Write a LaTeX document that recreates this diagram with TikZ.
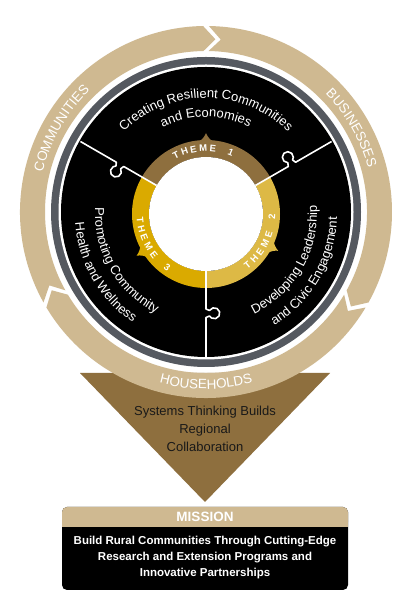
\documentclass[tikz,border=0pt]{standalone}
\usepackage{fontspec}
\setmainfont{Liberation Sans}
\usetikzlibrary{decorations.text}
\definecolor{oldgold}{HTML}{CFB991}
\definecolor{aged}{HTML}{8E6F3E}
\definecolor{rush}{HTML}{DAAA00}
\definecolor{field}{HTML}{DDB945}
\definecolor{steel}{HTML}{555960}
\tikzset{
  divider/.style={draw=white, line width=1.6pt, line join=round},
  arctext/.style={decorate, decoration={text along path, text align=center, text color=white, text={#1}}},
  themeletter/.style={text=white, font=\fontsize{9.5}{9.5}\selectfont\bfseries, inner sep=0pt},
  bigtext/.style={font=\fontsize{13}{18}\selectfont},
}
\begin{document}
\begin{tikzpicture}[x=1pt,y=1pt]
\useasboundingbox (0,0) rectangle (405,594);
\fill[white] (0,0) rectangle (405,594);
% triangle
\fill[aged] (80,221) -- (330,221) -- (205,92) -- cycle;
\node[bigtext, align=center, text=black!90] (tri) at (205,165) {Systems Thinking Builds\\Regional\\Collaboration};
% outer ring
\begin{scope}[shift={(206,382)}]
  \foreach \a/\b in {210/90, 90/-30, -30/-150}{
    \fill[oldgold] (\a-0.9:186) arc[start angle=\a-0.9, end angle=\b+0.9, radius=186]
      -- (\b+0.9-4:173) -- (\b+0.9:161) arc[start angle=\b+0.9, end angle=\a-0.9, radius=161]
      -- (\a-0.9-4:173) -- cycle;
  }
  \path[arctext={|\fontsize{13.5}{13.5}\selectfont|COMMUNITIES}] (185:168) arc[start angle=185, end angle=115, radius=168];
  \path[arctext={|\fontsize{13.5}{13.5}\selectfont|BUSINESSES}] (65:168) arc[start angle=65, end angle=-5, radius=168];
  \path[arctext={|\fontsize{13.5}{13.5}\selectfont|HOUSEHOLDS}] (235:177) arc[start angle=235, end angle=305, radius=177];
  \fill[steel] (0,0) circle[radius=155];
  \fill[white] (0,0) circle[radius=147.5];
  \fill[black] (0,0) circle[radius=145];
\end{scope}
% theme ring
\begin{scope}[shift={(206,380)}]
  \fill[aged] (30:74) arc[start angle=30, end angle=150, radius=74] -- (150:57) arc[start angle=150, end angle=30, radius=57] -- cycle;
  \fill[rush] (150:74) arc[start angle=150, end angle=270, radius=74] -- (270:57) arc[start angle=270, end angle=150, radius=57] -- cycle;
  \fill[field] (270:74) arc[start angle=270, end angle=390, radius=74] -- (30:57) arc[start angle=390, end angle=270, radius=57] -- cycle;
  \foreach \t/\c in {90/aged, 211/rush, -27/field}{
    \fill[\c, rotate=\t] (6.5:72) .. controls (3:74.2) and (1:77.5) .. (0:81) .. controls (-1:77.5) and (-3:74.2) .. (-6.5:72) -- cycle;
  }
  \fill[white] (0,0) circle[radius=57];
  \foreach \r in {30,150,270}{
    \draw[divider, rotate=\r] (57,0) -- (95,0) -- (96.5,3.5) arc[start angle=-120, end angle=-420, radius=5.5] -- (103.5,0) -- (145,0);
  }
  \foreach \ch/\ang [count=\i] in {T/117,H/109,E/101,M/92.5,E/84,1/68}
    \node[themeletter, rotate=\ang-90] (ta\i) at (\ang:66) {\ch};
  \foreach \ch/\ang [count=\i] in {T/-51,H/-43,E/-35,M/-26.5,E/-18,2/-2}
    \node[themeletter, rotate=\ang+90] (tb\i) at (\ang:66) {\ch};
  \foreach \ch/\ang [count=\i] in {T/185,H/193,E/201,M/209.5,E/218,3/234}
    \node[themeletter, rotate=\ang+90] (tc\i) at (\ang:66) {\ch};
  % sector texts
  \path[arctext={|\fontsize{13}{13}\selectfont|Creating Resilient Communities}] (165:116) arc[start angle=165, end angle=15, radius=116];
  \path[arctext={|\fontsize{13}{13}\selectfont|and Economies}] (150:97) arc[start angle=150, end angle=30, radius=97];
  \path[arctext={|\fontsize{13}{13}\selectfont|Developing Leadership}] (-105:111) arc[start angle=-105, end angle=45, radius=111];
  \path[arctext={|\fontsize{13}{13}\selectfont|and Civic Engagement}] (-105:131) arc[start angle=-105, end angle=45, radius=131];
  \path[arctext={|\fontsize{13}{13}\selectfont|Promoting Community}] (135:111) arc[start angle=135, end angle=285, radius=111];
  \path[arctext={|\fontsize{13}{13}\selectfont|Health and Wellness}] (135:131) arc[start angle=135, end angle=285, radius=131];
\end{scope}
% mission box
\fill[black, rounded corners=5pt] (62,4) rectangle (348,87);
\fill[oldgold, rounded corners=5pt] (62,67) rectangle (348,87);
\fill[oldgold] (62,67) rectangle (348,76);
\node[font=\fontsize{13.5}{13.5}\selectfont\bfseries, text=white] (mh) at (205,77) {MISSION};
\node[font=\fontsize{11.5}{16}\selectfont\bfseries, text=white, align=center] (mb) at (205,36) {Build Rural Communities Through Cutting-Edge\\Research and Extension Programs and\\Innovative Partnerships};
\end{tikzpicture}
\end{document}
